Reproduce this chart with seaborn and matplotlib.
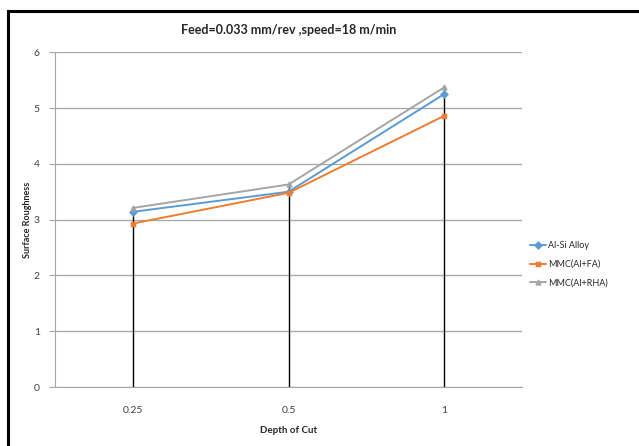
import numpy as np
import pandas as pd
import seaborn as sns
import matplotlib.pyplot as plt
from matplotlib.patches import Rectangle

# values
depth = ['0.25', '0.5', '1']
al_si = [3.14, 3.50, 5.25]
mmc_fa = [2.93, 3.48, 4.86]
mmc_rha = [3.21, 3.63, 5.37]
series_names = ['Al-Si Alloy', 'MMC(Al+FA)', 'MMC(Al+RHA)']
colors = ['#5B9BD5', '#ED7D31', '#A5A5A5']
markers = ['D', 's', '^']

df = pd.DataFrame({
    'Depth of Cut': depth * 3,
    'Surface Roughness': al_si + mmc_fa + mmc_rha,
    'series': np.repeat(series_names, len(depth)),
})

sns.set_style('white')
plt.rcParams['font.family'] = ['Lato', 'DejaVu Sans']

fig = plt.figure(figsize=(6.39, 4.46), dpi=100)
ax = fig.add_axes([0.086, 0.132, 0.731, 0.751])

# drop lines from the axis up to the highest series at each depth
tops = np.max([al_si, mmc_fa, mmc_rha], axis=0)
ax.vlines(range(len(depth)), 0, tops, color='black', lw=1.0, zorder=1)

sns.pointplot(data=df, x='Depth of Cut', y='Surface Roughness', hue='series',
              hue_order=series_names, palette=colors, markers=markers,
              errorbar=None, dodge=False, ax=ax, linewidth=1.4,
              markersize=3.5, zorder=3)

ax.set_xlim(-0.5, len(depth) - 0.5)
ax.set_ylim(0, 6)
ax.set_yticks(range(0, 7))
ax.yaxis.grid(True, color='#A6A6A6', lw=0.9)
ax.set_axisbelow(True)
for s in ['top', 'right']:
    ax.spines[s].set_visible(False)
ax.spines['left'].set_color('#A6A6A6')
ax.spines['bottom'].set_color('#A6A6A6')
ax.tick_params(axis='y', left=True, length=4, color='#A6A6A6', labelsize=7.5,
               labelcolor='#404040', pad=7)
ax.tick_params(axis='x', bottom=False, labelsize=7.5, labelcolor='#404040', pad=10)

ax.set_xlabel('Depth of Cut', fontsize=7, fontweight='bold', labelpad=8)
ax.set_ylabel('Surface Roughness', fontsize=6.5, fontweight='bold')
ax.yaxis.set_label_coords(-0.05, 0.5)
ax.set_title('Feed=0.033 mm/rev ,speed=18 m/min', fontsize=9, fontweight='bold',
             pad=13)

handles, labels = ax.get_legend_handles_labels()
ax.legend(handles, labels, loc='center left', bbox_to_anchor=(1.0, 0.367),
          frameon=False, fontsize=6.5, handlelength=1.8, labelspacing=1.1,
          handletextpad=0.15)

# outer chart frame (only top and left edges fall inside the image)
fig.patches.append(Rectangle((0.0125, -0.1), 1.2, 1.075, transform=fig.transFigure,
                             fill=False, edgecolor='black', lw=2.2))

fig.savefig('out.png', dpi=100, facecolor='white')
